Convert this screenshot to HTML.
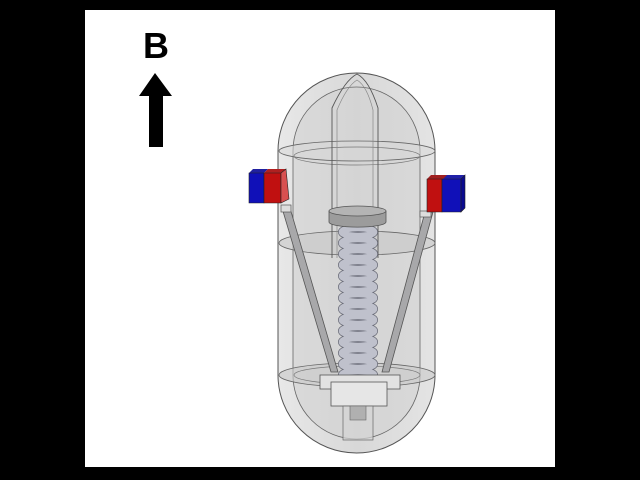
<!DOCTYPE html>
<html><head><style>
html,body{margin:0;padding:0;background:#000;width:640px;height:480px;overflow:hidden}
svg{display:block}
</style></head><body>
<svg width="640" height="480" viewBox="0 0 640 480" xmlns="http://www.w3.org/2000/svg">
<defs>
<linearGradient id="cap" x1="0" x2="1">
<stop offset="0" stop-color="#e8e8e8"/><stop offset="0.5" stop-color="#d8d8d8"/><stop offset="1" stop-color="#e4e4e4"/>
</linearGradient>
</defs>
<rect x="85" y="10" width="470" height="457" fill="#fff"/>
<text x="156" y="58" font-family="Liberation Sans, sans-serif" font-weight="bold" font-size="36" text-anchor="middle">B</text>
<polygon points="155,73 172,96 163,96 163,147 149,147 149,96 139,96" fill="#000"/>

<path d="M278,151 A78.5,78 0 0 1 435,151 L435,375 A78.5,78 0 0 1 278,375 Z" fill="url(#cap)" stroke="#555" stroke-width="1"/>
<path d="M293,151 A63.5,64 0 0 1 420,151 L420,375 A63.5,64 0 0 1 293,375 Z" fill="#d2d2d2" fill-opacity="0.6" stroke="#666" stroke-width="0.8"/>
<ellipse cx="357" cy="151" rx="78" ry="10" fill="#d8d8d8" fill-opacity="0.5" stroke="#666" stroke-width="0.8"/>
<ellipse cx="357" cy="156" rx="63" ry="9" fill="none" stroke="#777" stroke-width="0.7"/>
<ellipse cx="357" cy="243" rx="78" ry="12" fill="#c8c8c8" fill-opacity="0.6" stroke="#666" stroke-width="0.8"/>
<ellipse cx="357" cy="375" rx="78" ry="12" fill="#cacaca" fill-opacity="0.6" stroke="#666" stroke-width="0.8"/>
<ellipse cx="357" cy="375" rx="63" ry="9" fill="none" stroke="#777" stroke-width="0.7"/>
<path d="M332,258 L332,108 Q345,80 357,74 Q369,80 378,108 L378,258" fill="none" stroke="#555" stroke-width="0.9"/>
<path d="M337,258 L337,110 Q347,86 357,80 Q367,86 373,110 L373,258" fill="none" stroke="#888" stroke-width="0.7"/>

<polygon points="282,208 290,208 338,372 331,372" fill="#a8a8aa" stroke="#555" stroke-width="0.8"/>
<polygon points="425,212 433,212 389,372 382,372" fill="#a8a8aa" stroke="#555" stroke-width="0.8"/>
<rect x="281" y="205" width="10" height="7" fill="#ddd" stroke="#555" stroke-width="0.7"/>
<rect x="420" y="211" width="11" height="6" fill="#ddd" stroke="#555" stroke-width="0.7"/>

<!-- spring -->
<g fill="none">
<g stroke="#6a6c78" stroke-width="8">
<ellipse cx="358" cy="232" rx="16" ry="4"/><ellipse cx="358" cy="243" rx="16" ry="4"/><ellipse cx="358" cy="254" rx="16" ry="4"/><ellipse cx="358" cy="265" rx="16" ry="4"/><ellipse cx="358" cy="276" rx="16" ry="4"/><ellipse cx="358" cy="287" rx="16" ry="4"/><ellipse cx="358" cy="298" rx="16" ry="4"/><ellipse cx="358" cy="309" rx="16" ry="4"/><ellipse cx="358" cy="320" rx="16" ry="4"/><ellipse cx="358" cy="331" rx="16" ry="4"/><ellipse cx="358" cy="342" rx="16" ry="4"/><ellipse cx="358" cy="353" rx="16" ry="4"/><ellipse cx="358" cy="364" rx="16" ry="4"/><ellipse cx="358" cy="375" rx="16" ry="4"/>
</g>
<g stroke="#bfc1cc" stroke-width="6.5">
<ellipse cx="358" cy="232" rx="16" ry="4"/><ellipse cx="358" cy="243" rx="16" ry="4"/><ellipse cx="358" cy="254" rx="16" ry="4"/><ellipse cx="358" cy="265" rx="16" ry="4"/><ellipse cx="358" cy="276" rx="16" ry="4"/><ellipse cx="358" cy="287" rx="16" ry="4"/><ellipse cx="358" cy="298" rx="16" ry="4"/><ellipse cx="358" cy="309" rx="16" ry="4"/><ellipse cx="358" cy="320" rx="16" ry="4"/><ellipse cx="358" cy="331" rx="16" ry="4"/><ellipse cx="358" cy="342" rx="16" ry="4"/><ellipse cx="358" cy="353" rx="16" ry="4"/><ellipse cx="358" cy="364" rx="16" ry="4"/><ellipse cx="358" cy="375" rx="16" ry="4"/>
</g>
</g>
<path d="M329,211 L329,222 A28,5 0 0 0 386,222 L386,211 Z" fill="#9c9c9c" stroke="#555" stroke-width="0.8"/>
<ellipse cx="357.5" cy="211" rx="28.5" ry="5" fill="#b4b4b4" stroke="#555" stroke-width="0.8"/>

<rect x="320" y="375" width="80" height="14" fill="#e2e2e2" stroke="#555" stroke-width="0.8"/>
<rect x="331" y="382" width="56" height="24" fill="#e6e6e6" stroke="#555" stroke-width="0.8"/>
<rect x="343" y="406" width="30" height="34" fill="#d4d4d4" fill-opacity="0.7" stroke="#666" stroke-width="0.7"/>
<rect x="350" y="406" width="16" height="14" fill="#b0b0b0" stroke="#666" stroke-width="0.6"/>

<polygon points="249,173 253,169 268,169 264,173" fill="#2020a0"/>
<polygon points="249,173 264,173 264,203 249,203" fill="#1010b8" stroke="#222" stroke-width="0.6"/>
<polygon points="264,173 268,169 286,169 281,173" fill="#b02020"/>
<polygon points="264,173 281,173 281,203 264,203" fill="#c01010" stroke="#222" stroke-width="0.6"/>
<polygon points="281,173 286,169 289,199 281,203" fill="#d85050" stroke="#222" stroke-width="0.6"/>
<polygon points="427,179 431,175 465,175 461,179" fill="#a02020"/>
<polygon points="443,179 447,175 465,175 461,179" fill="#2020a8"/>
<polygon points="427,179 442,179 442,212 427,212" fill="#c01010" stroke="#222" stroke-width="0.6"/>
<polygon points="442,179 461,179 461,212 442,212" fill="#1010b8" stroke="#222" stroke-width="0.6"/>
<polygon points="461,179 465,175 465,208 461,212" fill="#0a0a90" stroke="#222" stroke-width="0.6"/>
</svg>
</body></html>
